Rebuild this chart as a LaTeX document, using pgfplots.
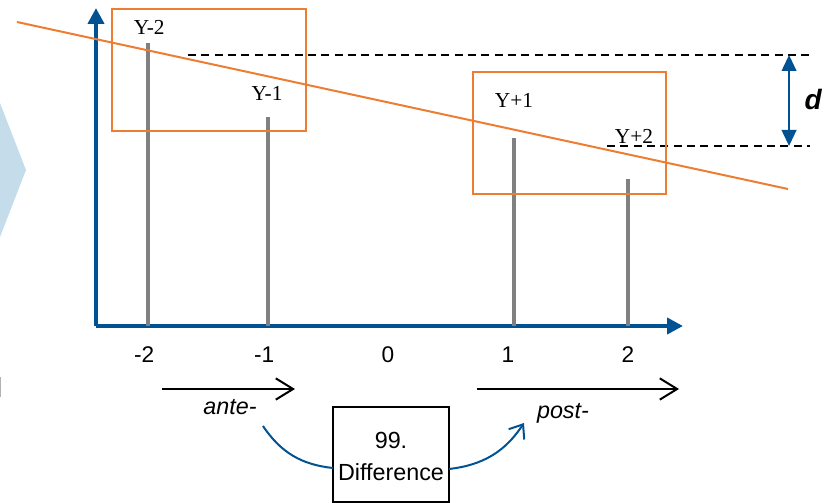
\documentclass[border=0pt]{standalone}
\usepackage{pgfplots}
\pgfplotsset{compat=1.18}
\usetikzlibrary{arrows.meta}
\usepackage{fontspec}
\setmainfont{Liberation Sans}
\newfontfamily\seriffont{Liberation Serif}
\definecolor{axblue}{RGB}{0,82,147}
\definecolor{orng}{RGB}{237,125,49}
\definecolor{stemgray}{RGB}{128,128,128}
\definecolor{chev}{RGB}{197,220,235}
\begin{document}
\begin{tikzpicture}
\begin{axis}[
  scale only axis, width=440.25pt, height=238.5pt,
  xmin=-2.4333, xmax=2.4583, ymin=0, ymax=318,
  axis lines=left,
  axis line style={axblue, line width=3pt, -{Triangle[length=12pt,width=12pt]}},
  xtick={-2,-1,0,1,2}, xticklabels={\llap{-}2\hspace{2pt},\llap{-}1\hspace{2pt},0,1,2},
  ytick=\empty,
  major tick length=0pt,
  xticklabel style={font=\fontsize{17}{20}\selectfont, yshift=-12pt},
  clip=false,
]
\fill[chev] (axis cs:-3.4,274.5) -- (axis cs:-3.0167,156) -- (axis cs:-3.4,37.5) -- cycle;
\draw[gray!60, line width=1.5pt] (axis cs:-3.2333,-51) -- (axis cs:-3.2333,-71);
\addplot[ycomb, stemgray, line width=3pt, mark=none] coordinates {(-2,283) (-1,209) (1.05,188) (2,147)};
\draw[black, line width=1.5pt, dash pattern=on 6pt off 4pt] (axis cs:-1.667,271) -- (axis cs:3.517,271);
\draw[black, line width=1.5pt, dash pattern=on 6pt off 4pt] (axis cs:1.825,180) -- (axis cs:3.517,180);
\addplot[orng, line width=1.5pt, mark=none] coordinates {(-3.092,304) (3.333,137)};
\draw[orng, line width=1.5pt] (axis cs:-2.3,317) rectangle (axis cs:-0.683,195);
\draw[orng, line width=1.5pt] (axis cs:0.708,254) rectangle (axis cs:2.317,132);
\draw[axblue, line width=1.5pt, {Triangle[length=12pt,width=11pt]}-{Triangle[length=12pt,width=11pt]}] (axis cs:3.342,271) -- (axis cs:3.342,180);
\node[font=\fontsize{21}{24}\selectfont\bfseries\itshape] at (axis cs:3.542,226) {d};
\node[font=\seriffont\fontsize{16}{18}\selectfont] at (axis cs:-1.99,299) {Y-2};
\node[font=\seriffont\fontsize{16}{18}\selectfont] at (axis cs:-1.008,233) {Y-1};
\node[font=\seriffont\fontsize{16}{18}\selectfont] at (axis cs:1.05,226) {Y+1};
\node[font=\seriffont\fontsize{16}{18}\selectfont] at (axis cs:2.05,189.5) {Y+2};
\draw[black, line width=1.5pt, -{Straight Barb[length=13pt,width=16pt]}] (axis cs:-1.883,-63) -- (axis cs:-0.775,-63);
\draw[black, line width=1.5pt, -{Straight Barb[length=13pt,width=16pt]}] (axis cs:0.742,-63) -- (axis cs:2.425,-63);
\node[font=\fontsize{17.5}{20}\selectfont\itshape, anchor=base] at (axis cs:-1.317,-88) {ante-};
\node[font=\fontsize{17.5}{20}\selectfont\itshape, anchor=base] at (axis cs:1.458,-92) {post-};
\draw[black, line width=1.2pt] (axis cs:-0.458,-81) rectangle (axis cs:0.508,-176);
\node[font=\fontsize{17.5}{20}\selectfont, anchor=base] at (axis cs:0.025,-122) {99.};
\node[font=\fontsize{17.5}{20}\selectfont, anchor=base] at (axis cs:0.025,-154) {Difference};
\draw[axblue, line width=1.5pt] (axis cs:-1.042,-100) to[bend right=25] (axis cs:-0.458,-142);
\draw[axblue, line width=1.5pt, -{Straight Barb[length=9pt,width=14pt]}] (axis cs:0.508,-143) to[bend right=25] (axis cs:1.133,-97);
\coordinate (bbSW) at (axis cs:-3.2333,-177);
\coordinate (bbNE) at (axis cs:3.725,326);
\end{axis}
\pgfresetboundingbox
\useasboundingbox (bbSW) rectangle (bbNE);
\end{tikzpicture}
\end{document}
